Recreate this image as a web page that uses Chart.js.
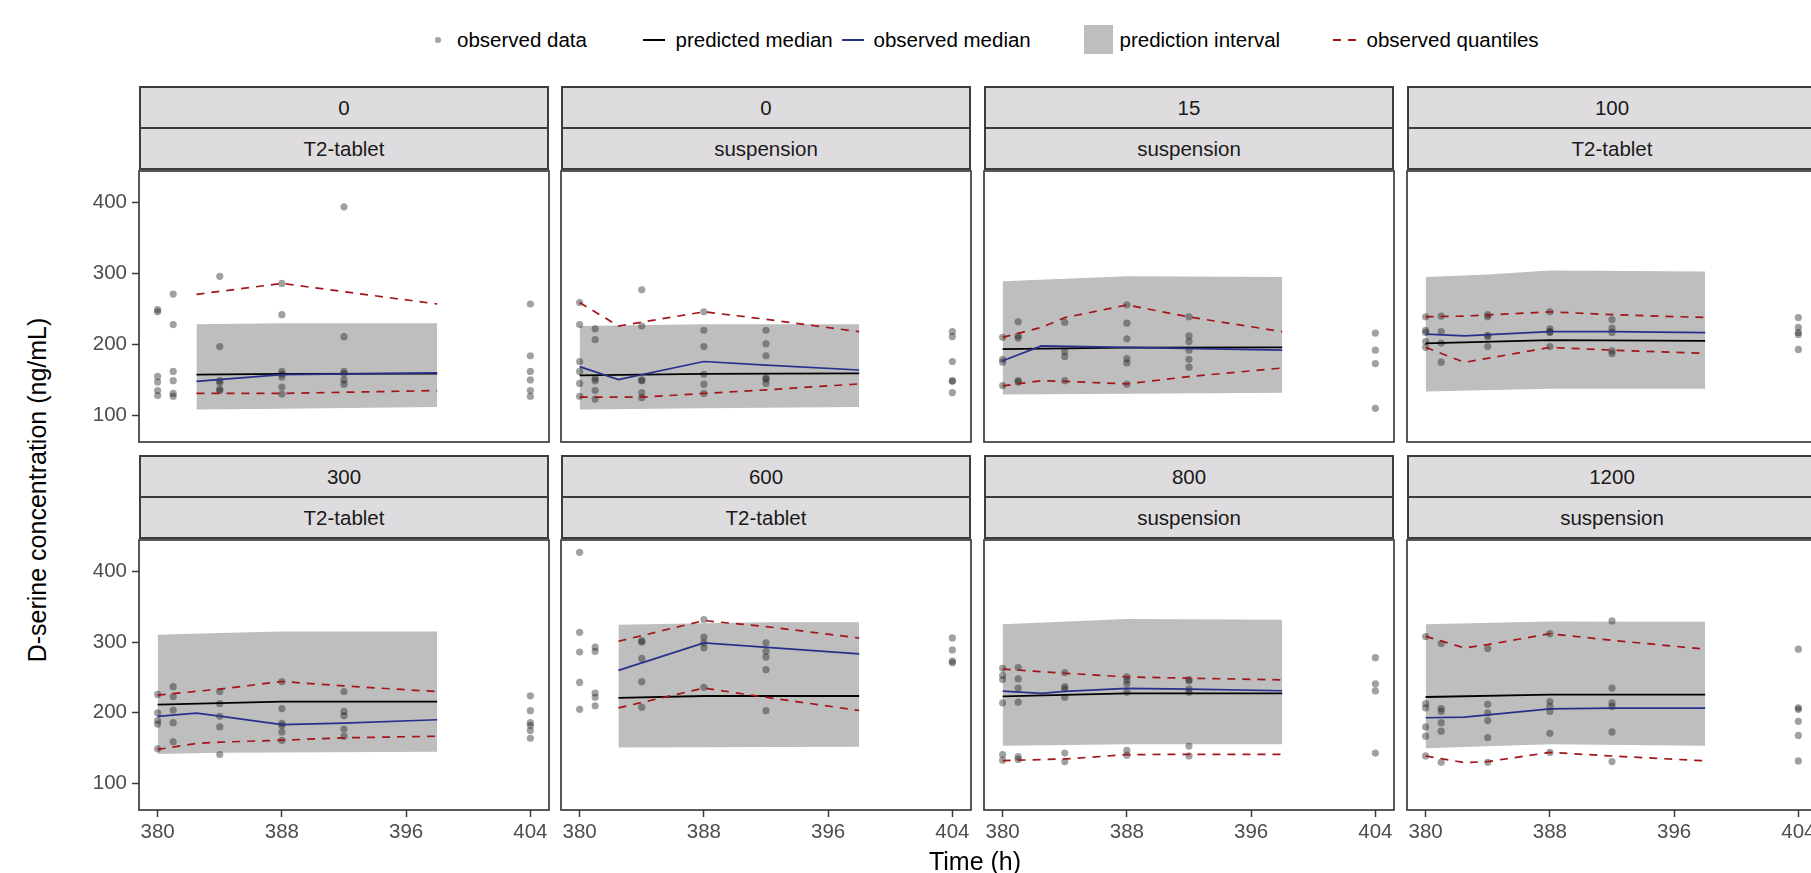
<!DOCTYPE html>
<html>
<head>
<meta charset="utf-8">
<script src="https://cdn.jsdelivr.net/npm/chart.js@4.4.1/dist/chart.umd.min.js"></script>
<style>
  body { margin: 0; background: #fff; overflow: hidden; }
  #fig { position: relative; width: 1811px; height: 873px; overflow: hidden; background: #fff;
         font-family: "Liberation Sans", Arial, sans-serif; color: #1a1a1a; }
  .strip { position: absolute; box-sizing: border-box; border: 2px solid #3c3c3c; background: #dfdcdf;
           display: flex; align-items: center; justify-content: center; font-size: 20.5px; color: #1a1a1a; }
  canvas { position: absolute; }
  .leg { position: absolute; top: 28px; font-size: 20.5px; line-height: 24px; white-space: nowrap; color: #000; }
  .key { position: absolute; }
  .title { position: absolute; font-size: 25px; line-height: 25px; white-space: nowrap; color: #000; }
</style>
</head>
<body>
<div id="fig"></div>
<script>
// sampling times of the observations and of the binned summaries
const obsTimes = [380, 381, 384, 388, 392, 404];
const binTimes = [380, 382.5, 384, 388, 392, 398];

// facet labels
const doses = ['0', '0', '15', '100', '300', '600', '800', '1200'];
const forms = ['T2-tablet', 'suspension', 'suspension', 'T2-tablet', 'T2-tablet', 'T2-tablet', 'suspension', 'suspension'];

const xTicks = [380, 388, 396, 404];
const yTicks = [100, 200, 300, 400];

// observed concentrations, one list per sampling time
const observed = [
  [[249, 246, 155, 147, 135, 128], [271, 228, 162, 149, 131, 127], [296, 197, 149, 146, 137, 135],
   [286, 242, 162, 158, 154, 140, 130], [394, 211, 162, 159, 150, 144], [257, 184, 162, 150, 135, 127]],
  [[259, 228, 176, 162, 145, 127], [222, 207, 152, 149, 135, 123], [277, 226, 150, 149, 132, 125],
   [246, 220, 197, 158, 144, 131], [220, 201, 184, 153, 151, 145], [218, 211, 176, 149, 148, 132]],
  [[210, 179, 175, 142], [232, 212, 209, 149, 147], [231, 190, 183, 149],
   [256, 230, 208, 180, 174, 144], [239, 212, 204, 192, 179, 168], [216, 192, 173, 110]],
  [[239, 220, 217, 204, 196], [240, 218, 202, 175], [242, 239, 213, 211, 197],
   [246, 222, 218, 217, 197], [235, 223, 217, 191, 187], [238, 224, 217, 214, 193]],
  [[226, 200, 189, 184, 149], [237, 223, 204, 186, 159], [230, 213, 195, 180, 141],
   [244, 206, 185, 182, 173, 161], [230, 202, 196, 177, 167], [224, 203, 186, 182, 175, 164]],
  [[427, 314, 286, 243, 205], [293, 287, 228, 222, 210], [302, 300, 277, 244, 208],
   [332, 307, 299, 292, 236], [299, 287, 279, 261, 203], [306, 289, 273, 271]],
  [[263, 253, 247, 214, 141, 133], [264, 248, 235, 215, 138, 134], [257, 237, 234, 222, 143, 131],
   [251, 246, 241, 229, 147, 140], [247, 245, 234, 229, 153, 139], [278, 241, 231, 143]],
  [[308, 213, 207, 180, 167, 139], [298, 206, 202, 186, 174, 130], [291, 212, 200, 189, 165, 130],
   [312, 216, 209, 202, 171, 144], [330, 235, 214, 209, 173, 131], [290, 207, 205, 188, 168, 132]]
];

// binned summaries at binTimes (null = no bin there)
const piLower = [
  [null, 108.4, null, 109.5, null, 111.7], [108.4, null, null, 110, null, 111.7],
  [129.4, null, null, 130.5, null, 131.8], [133.6, null, null, 137.4, null, 137.4],
  [141.7, null, 143.6, null, null, 145], [null, 151, null, null, null, 152],
  [153.4, null, null, 155.7, null, 155.7], [149.7, null, null, 155.7, null, 153.4]
];
const piUpper = [
  [null, 228.5, null, 230, null, 230], [226, null, null, 228.5, null, 228.5],
  [289, null, null, 296, null, 295], [295, null, 298.6, 304.2, null, 303],
  [310.5, null, 312.8, 315.2, null, 315.2], [null, 324.5, null, 326.8, 328.2, 328.2],
  [325.4, null, null, 332.9, null, 331.5], [325.4, null, null, 329.1, null, 328.7]
];
const predMedian = [
  [null, 157.5, null, 158.5, null, 159], [156.5, null, null, 158.5, null, 159.3],
  [193.5, null, null, 195.5, null, 195.8], [201.4, null, null, 206, null, 205],
  [211.7, null, null, 215.8, null, 215.8], [null, 221, null, 223.8, null, 223.8],
  [223.3, null, null, 227.5, null, 227.5], [222.4, null, null, 225.6, null, 225.6]
];
const obsMedian = [
  [null, 148, null, 157.5, null, 159.8], [168.7, 150.5, null, 176, 171, 164],
  [177, 198, null, 195.8, null, 192], [214.5, 212, null, 218, 218, 216.8],
  [194.9, 199.5, 195.3, 183.2, 185.5, 190.2], [null, 260.1, null, 298.8, null, 283.4],
  [230.8, 227.5, 230.3, 234.5, 233.6, 231.2], [193, 194, null, 205.6, 206.5, 206.5]
];
const obsLower = [
  [null, 131, null, 131, null, 135], [125.7, null, 125.7, 131, 136, 144.4],
  [141.6, 149, 148, 144.4, 154.7, 166.8], [195.8, 174.8, null, 195.8, 192, 187.4],
  [148.2, 156.6, 158.5, 161.3, 164.6, 166.9], [null, 207, null, 235, 222, 203.3],
  [132.4, null, 134.7, 140.8, 141.3, 141.3], [138.9, 129.6, 131, 144, 138.9, 132]
];
const obsUpper = [
  [null, 270.6, null, 286, null, 257], [259, 226, null, 246, 235.5, 218],
  [210, 224, 237.8, 255.6, 238.8, 218], [239, 240, null, 246, 242, 238],
  [225, null, 233.6, 244.3, 238, 230], [null, 301.2, null, 330.5, 322, 305.8],
  [262, null, 256, 250.8, 249, 246.6], [308.2, 291.8, 296.5, 311.9, 302.6, 290]
];

// panel placement
const colLeft = [139, 561, 984, 1407];
const rowTop = [169, 538];
const plotW = 410;
const plotH = [273, 272];
const axisW = 70, axisH = 40;

Chart.defaults.font.family = '"Liberation Sans", Arial, sans-serif';

const fig = document.getElementById('fig');

function binPoints(vals) {
  return binTimes.map((t, i) => vals[i] == null ? null : { x: t, y: vals[i] }).filter(Boolean);
}

// ggplot-like panel frame
const frame = {
  id: 'frame',
  afterDraw(chart) {
    const a = chart.chartArea, ctx = chart.ctx;
    ctx.save();
    ctx.strokeStyle = '#3c3c3c';
    ctx.lineWidth = 1.7;
    ctx.strokeRect(a.left, a.top, a.right - a.left, a.bottom - a.top);
    ctx.restore();
  }
};

function addDiv(cls, css, text) {
  const d = document.createElement('div');
  d.className = cls;
  Object.assign(d.style, css);
  if (text != null) d.textContent = text;
  fig.appendChild(d);
  return d;
}

for (let p = 0; p < 8; p++) {
  const r = Math.floor(p / 4), c = p % 4;
  const left = colLeft[c], top = rowTop[r], h = plotH[r];

  // facet strips
  addDiv('strip', { left: left + 'px', top: (top - 1 - 82) + 'px', width: plotW + 'px', height: '43px' }, doses[p]);
  addDiv('strip', { left: left + 'px', top: (top - 1 - 41) + 'px', width: plotW + 'px', height: '43px' }, forms[p]);

  const cv = document.createElement('canvas');
  cv.width = axisW + plotW + 6;
  cv.height = 2 + h + axisH;
  cv.style.left = (left - axisW) + 'px';
  cv.style.top = (top - 2) + 'px';
  fig.appendChild(cv);

  const pts = [];
  observed[p].forEach((vals, j) => vals.forEach(v => pts.push({ x: obsTimes[j], y: v })));

  const showX = r === 1, showY = c === 0;

  new Chart(cv, {
    type: 'line',
    data: {
      datasets: [
        { label: 'observed quantiles', data: binPoints(obsUpper[p]), borderColor: '#a3141b', borderWidth: 1.7,
          borderDash: [8, 7], pointRadius: 0, fill: false },
        { label: 'observed quantiles', data: binPoints(obsLower[p]), borderColor: '#a3141b', borderWidth: 1.7,
          borderDash: [8, 7], pointRadius: 0, fill: false },
        { label: 'observed median', data: binPoints(obsMedian[p]), borderColor: '#28308c', borderWidth: 1.7,
          pointRadius: 0, fill: false },
        { label: 'predicted median', data: binPoints(predMedian[p]), borderColor: '#000000', borderWidth: 1.8,
          pointRadius: 0, fill: false },
        { label: 'observed data', data: pts, showLine: false, pointRadius: 3.6, pointBorderWidth: 0,
          pointBackgroundColor: 'rgba(30,30,30,0.42)', pointBorderColor: 'rgba(0,0,0,0)' },
        { label: 'prediction interval', data: binPoints(piUpper[p]), borderColor: 'rgba(0,0,0,0)', borderWidth: 0,
          pointRadius: 0, backgroundColor: '#bebebe', fill: '+1' },
        { label: 'prediction interval low', data: binPoints(piLower[p]), borderColor: 'rgba(0,0,0,0)', borderWidth: 0,
          pointRadius: 0, fill: false }
      ]
    },
    options: {
      responsive: false,
      animation: false,
      devicePixelRatio: 1,
      layout: { padding: { top: 2, right: 6, left: 0, bottom: 0 } },
      plugins: { legend: { display: false }, tooltip: { enabled: false } },
      elements: { line: { tension: 0 } },
      scales: {
        x: {
          type: 'linear', min: 378.8, max: 405.2,
          afterBuildTicks: s => { s.ticks = xTicks.map(v => ({ value: v })); },
          afterFit: s => { s.height = axisH; s.paddingLeft = 0; s.paddingRight = 0; },
          ticks: { display: showX, color: '#4d4d4d', font: { size: 20.5 }, padding: 3,
                   autoSkip: false, maxRotation: 0, callback: v => String(v) },
          grid: { display: showX, drawOnChartArea: false, drawTicks: true, tickLength: 7,
                  tickColor: '#3c3c3c', tickWidth: 1.5 },
          border: { display: false }
        },
        y: {
          type: 'linear', min: 62.5, max: 444.5,
          afterBuildTicks: s => { s.ticks = yTicks.map(v => ({ value: v })); },
          afterFit: s => { s.width = axisW; s.paddingTop = 0; s.paddingBottom = 0; },
          ticks: { display: showY, color: '#4d4d4d', font: { size: 20.5 }, padding: 5,
                   autoSkip: false, callback: v => String(v) },
          grid: { display: showY, drawOnChartArea: false, drawTicks: true, tickLength: 7,
                  tickColor: '#3c3c3c', tickWidth: 1.5 },
          border: { display: false }
        }
      }
    },
    plugins: [frame]
  });
}

// axis titles
addDiv('title', { left: '975px', top: '849px', transform: 'translateX(-50%)' }, 'Time (h)');
addDiv('title', { left: '37px', top: '490px', transform: 'translate(-50%, -50%) rotate(-90deg)' },
  'D-serine concentration (ng/mL)');

// legend
addDiv('key', { left: '435px', top: '37px', width: '5.5px', height: '5.5px', borderRadius: '50%', background: '#a4a4a4' });
addDiv('leg', { left: '457px' }, 'observed data');
addDiv('key', { left: '643px', top: '39px', width: '22px', height: '2px', background: '#000' });
addDiv('leg', { left: '675.5px' }, 'predicted median');
addDiv('key', { left: '842px', top: '39px', width: '22px', height: '2px', background: '#28308c' });
addDiv('leg', { left: '873.5px' }, 'observed median');
addDiv('key', { left: '1084px', top: '25px', width: '29px', height: '29px', background: '#bebebe' });
addDiv('leg', { left: '1119.5px' }, 'prediction interval');
addDiv('key', { left: '1333px', top: '39px', width: '8px', height: '2px', background: '#a3141b' });
addDiv('key', { left: '1348px', top: '39px', width: '8px', height: '2px', background: '#a3141b' });
addDiv('leg', { left: '1366.5px' }, 'observed quantiles');
</script>
</body>
</html>
